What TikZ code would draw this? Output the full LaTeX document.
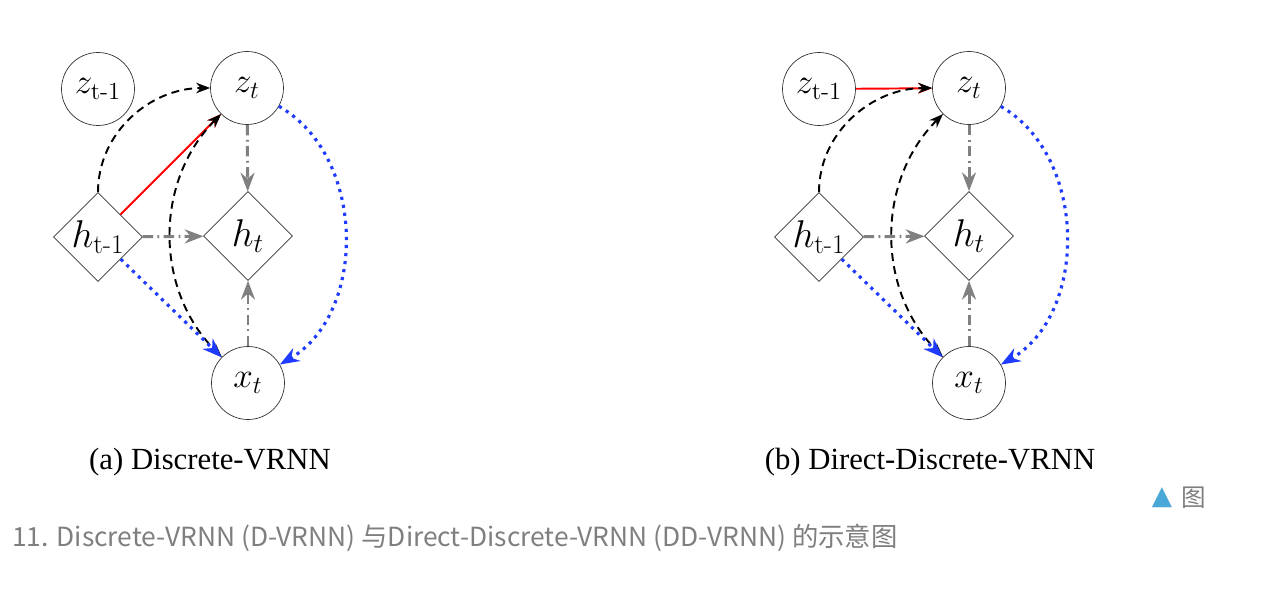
\RequirePackage{fix-cm}
\documentclass[tikz,border=0pt]{standalone}
\usepackage{amsmath}
\usepackage{fontspec}
\newfontfamily\capfont{Liberation Serif}
\newfontfamily\cjk{Noto Sans CJK SC}
\newfontfamily\sym{DejaVu Sans}
\usetikzlibrary{shapes.geometric,arrows.meta}
\definecolor{capgray}{HTML}{7F7F7F}
\definecolor{tricolor}{HTML}{4AA8D8}
\definecolor{genblue}{HTML}{1F3BFF}
\tikzstyle{var} = [draw=black!80, circle, minimum size=1.46cm, inner sep=0pt, font={\fontsize{20}{24}\selectfont}]
\tikzstyle{det} = [draw=black!80, diamond, minimum size=1.78cm, inner sep=0pt, font={\fontsize{22}{26}\selectfont}]
\tikzstyle{prior} = [black, dash pattern=on 4.5pt off 3pt, line width=1.1pt]
\tikzstyle{trans} = [red, line width=1.1pt]
\tikzstyle{recur} = [gray, dash pattern=on 6pt off 2.5pt on 1pt off 2.5pt, line width=1.7pt]
\tikzstyle{gen} = [genblue, dash pattern=on 1.8pt off 2.8pt, line width=1.8pt]
\tikzstyle{sub} = [font={\capfont\fontsize{17.5}{21}\selectfont}]

\begin{document}
\begin{tikzpicture}[x=0.02cm, y=-0.02cm, >={Stealth}]
    \useasboundingbox (0,0) rectangle (1270,598);
    % (a)
    \node[var](za1) at (98,89){$z_{\text{t-1}}$};
    \node[var](za) at (247,88){$z_t$};
    \node[det](ha1) at (98,237){$h_{\text{t-1}}$};
    \node[det](ha) at (248,236){$h_t$};
    \node[var](xa) at (248,383){$x_t$};
    \draw[->,trans](ha1)--(za);
    \draw[->,prior](ha1.north)to[out=90,in=180](za.west);
    \draw[<->,prior](za)to[bend right=45](xa);
    \draw[->,recur](ha1)--(ha);
    \draw[->,recur](za)--(ha);
    \draw[->,recur](xa)--(ha);
    \draw[->,gen](ha1)--(xa);
    \draw[->,gen](za)to[bend left=60](xa);
    \node[sub](capa) at (210,462){(a) Discrete-VRNN};
    % (b)
    \node[var](zb1) at (819,89){$z_{\text{t-1}}$};
    \node[var](zb) at (969,88){$z_t$};
    \node[det](hb1) at (819,237){$h_{\text{t-1}}$};
    \node[det](hb) at (969,236){$h_t$};
    \node[var](xb) at (969,383){$x_t$};
    \draw[->,trans](zb1)--(zb);
    \draw[->,prior](hb1.north)to[out=90,in=180](zb.west);
    \draw[<->,prior](zb)to[bend right=45](xb);
    \draw[->,recur](hb1)--(hb);
    \draw[->,recur](zb)--(hb);
    \draw[->,recur](xb)--(hb);
    \draw[->,gen](hb1)--(xb);
    \draw[->,gen](zb)to[bend left=60](xb);
    \node[sub](capb) at (930,462){(b) Direct-Discrete-VRNN};
    % figure caption
    \node[text=tricolor, font={\sym\fontsize{15}{18}\selectfont}](tri) at (1162,498){▲};
    \node[text=capgray, font={\cjk\fontsize{14}{17}\selectfont}](fig) at (1194,498){图};
    \node[anchor=west, text=capgray, inner sep=0pt, font={\cjk\fontsize{15}{18}\selectfont}](cap) at (12,538){11. Discrete-VRNN (D-VRNN) 与Direct-Discrete-VRNN (DD-VRNN) 的示意图};
\end{tikzpicture}
\end{document}
